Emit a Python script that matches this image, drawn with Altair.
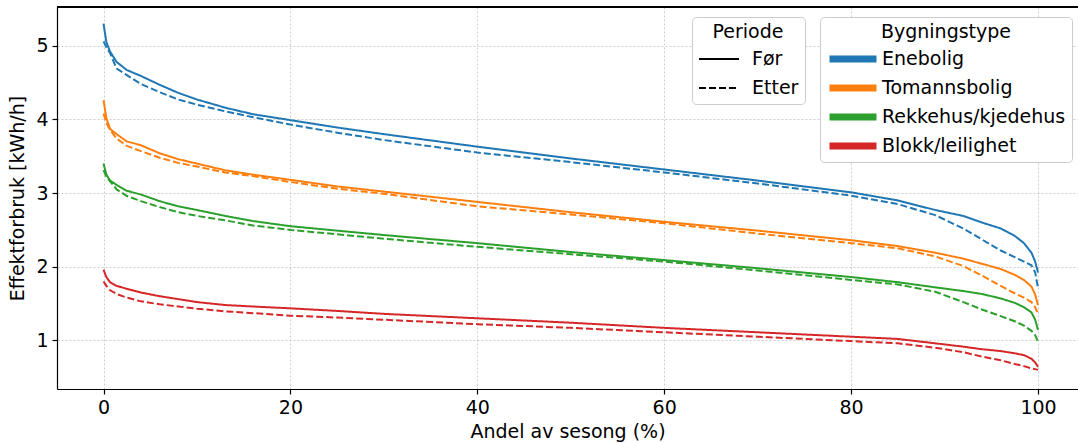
import altair as alt
import pandas as pd

# Shared x grid (share of season, %)
x_vals = [0, 0.3, 0.7, 1.4, 2.5, 4, 6, 8, 10, 13, 16, 20, 25, 30, 40, 50, 60, 70,
          80, 85, 89, 92, 94, 96, 97.5, 98.5, 99.3, 99.7, 100]

building_types = ["Enebolig", "Tomannsbolig", "Rekkehus/kjedehus", "Blokk/leilighet"]
periods = ["Før", "Etter"]
colors = ["#1f77b4", "#ff7f0e", "#2ca02c", "#d62728"]

enebolig_for = [5.30, 5.05, 4.92, 4.78, 4.67, 4.59, 4.47, 4.36, 4.27, 4.16, 4.07, 3.99, 3.89, 3.80,
                3.63, 3.47, 3.32, 3.17, 3.01, 2.90, 2.77, 2.69, 2.60, 2.52, 2.42, 2.32, 2.19, 2.07, 1.92]
enebolig_etter = [5.06, 4.98, 4.90, 4.69, 4.60, 4.48, 4.37, 4.27, 4.20, 4.11, 4.03, 3.93, 3.82, 3.72,
                  3.55, 3.42, 3.28, 3.13, 2.965, 2.85, 2.70, 2.52, 2.37, 2.22, 2.13, 2.07, 2.02, 1.92, 1.71]
tomanns_for = [4.26, 4.02, 3.87, 3.80, 3.70, 3.65, 3.54, 3.46, 3.40, 3.31, 3.25, 3.18, 3.09, 3.02,
               2.88, 2.74, 2.61, 2.49, 2.36, 2.28, 2.19, 2.11, 2.04, 1.97, 1.89, 1.82, 1.73, 1.62, 1.48]
tomanns_etter = [4.08, 3.95, 3.86, 3.74, 3.64, 3.57, 3.48, 3.41, 3.36, 3.28, 3.23, 3.15, 3.06, 2.99,
                 2.82, 2.71, 2.59, 2.45, 2.32, 2.25, 2.14, 2.01, 1.88, 1.74, 1.64, 1.58, 1.52, 1.45, 1.36]
rekke_for = [3.40, 3.25, 3.17, 3.11, 3.03, 2.98, 2.89, 2.82, 2.77, 2.69, 2.62, 2.55, 2.49, 2.43,
             2.32, 2.20, 2.09, 1.98, 1.86, 1.79, 1.72, 1.67, 1.63, 1.57, 1.51, 1.45, 1.38, 1.28, 1.14]
rekke_etter = [3.31, 3.22, 3.16, 3.05, 2.96, 2.89, 2.81, 2.74, 2.69, 2.63, 2.56, 2.50, 2.44, 2.38,
               2.27, 2.17, 2.07, 1.95, 1.82, 1.76, 1.66, 1.52, 1.42, 1.33, 1.26, 1.20, 1.13, 1.07, 0.98]
blokk_for = [1.96, 1.86, 1.79, 1.74, 1.70, 1.65, 1.60, 1.56, 1.52, 1.48, 1.46, 1.435, 1.40, 1.36,
             1.30, 1.24, 1.17, 1.11, 1.05, 1.02, 0.96, 0.915, 0.88, 0.855, 0.825, 0.80, 0.75, 0.70, 0.64]
blokk_etter = [1.80, 1.74, 1.68, 1.63, 1.58, 1.53, 1.49, 1.46, 1.43, 1.395, 1.37, 1.335, 1.31, 1.28,
               1.22, 1.17, 1.11, 1.05, 0.99, 0.96, 0.90, 0.84, 0.78, 0.73, 0.68, 0.65, 0.62, 0.61, 0.60]

series = {
    ("Enebolig", "Før"): enebolig_for,
    ("Enebolig", "Etter"): enebolig_etter,
    ("Tomannsbolig", "Før"): tomanns_for,
    ("Tomannsbolig", "Etter"): tomanns_etter,
    ("Rekkehus/kjedehus", "Før"): rekke_for,
    ("Rekkehus/kjedehus", "Etter"): rekke_etter,
    ("Blokk/leilighet", "Før"): blokk_for,
    ("Blokk/leilighet", "Etter"): blokk_etter,
}

rows = []
for (bt, per), ys in series.items():
    for xv, yv in zip(x_vals, ys):
        rows.append({"x": xv, "y": yv, "Bygningstype": bt, "Periode": per, "key": bt + "|" + per})
df = pd.DataFrame(rows)

W, H = 1021, 382

lines = alt.Chart(df).mark_line(strokeWidth=2).encode(
    x=alt.X("x:Q", title="Andel av sesong (%)",
            scale=alt.Scale(domain=[-4.98, 104.28], nice=False, zero=False),
            axis=alt.Axis(values=[0, 20, 40, 60, 80, 100], format="d")),
    y=alt.Y("y:Q", title="Effektforbruk [kWh/h]",
            scale=alt.Scale(domain=[0.34, 5.526], nice=False, zero=False),
            axis=alt.Axis(values=[1, 2, 3, 4, 5], format="d")),
    color=alt.Color("Bygningstype:N",
                    scale=alt.Scale(domain=building_types, range=colors),
                    legend=alt.Legend(orient="none", legendX=763, legendY=10,
                                      symbolType="stroke", symbolStrokeWidth=7,
                                      symbolSize=2209, labelOffset=2, labelLimit=400,
                                      clipHeight=18,
                                      padding=6, rowPadding=10,
                                      titleAnchor="middle", titlePadding=8,
                                      fillColor="white", strokeColor="#cccccc",
                                      cornerRadius=4, symbolDash=[1, 0])),
    strokeDash=alt.StrokeDash("Periode:N",
                              scale=alt.Scale(domain=periods, range=[[1, 0], [7, 3]]),
                              legend=alt.Legend(orient="none", legendX=635, legendY=10,
                                                symbolType="stroke", symbolStrokeWidth=2,
                                                symbolStrokeColor="black",
                                                symbolSize=1600, labelOffset=12,
                                                clipHeight=18,
                                                padding=6, rowPadding=10,
                                                titleAnchor="middle", titlePadding=8,
                                                fillColor="white", strokeColor="#cccccc",
                                                cornerRadius=4)),
    detail="key:N",
)

top_spine = alt.Chart(df).mark_rule(color="black", strokeWidth=1).encode(
    y=alt.value(0), x=alt.value(0), x2=alt.value(W)
)

chart = alt.layer(lines, top_spine).properties(
    width=W, height=H,
    autosize=alt.AutoSizeParams(type="none"),
    padding={"left": 57, "top": 7, "right": 0, "bottom": 54},
).configure(
    font="DejaVu Sans",
).configure_view(
    stroke=None,
).configure_axis(
    labelFontSize=19, titleFontSize=19, labelColor="black", titleColor="black",
    titleFontWeight="normal", domainColor="black", domainWidth=1.2,
    tickColor="black", tickSize=5, tickWidth=1.2, labelPadding=4,
    gridColor="#c0c0c0", gridDash=[2, 2], gridWidth=0.8,
).configure_axisX(
    titlePadding=5,
).configure_axisY(
    titlePadding=8,
).configure_legend(
    titleFontSize=19, labelFontSize=19, titleColor="black", labelColor="black",
    titleFontWeight="normal",
)

chart.save("out.html", embed_options={"renderer": "svg", "actions": False})
